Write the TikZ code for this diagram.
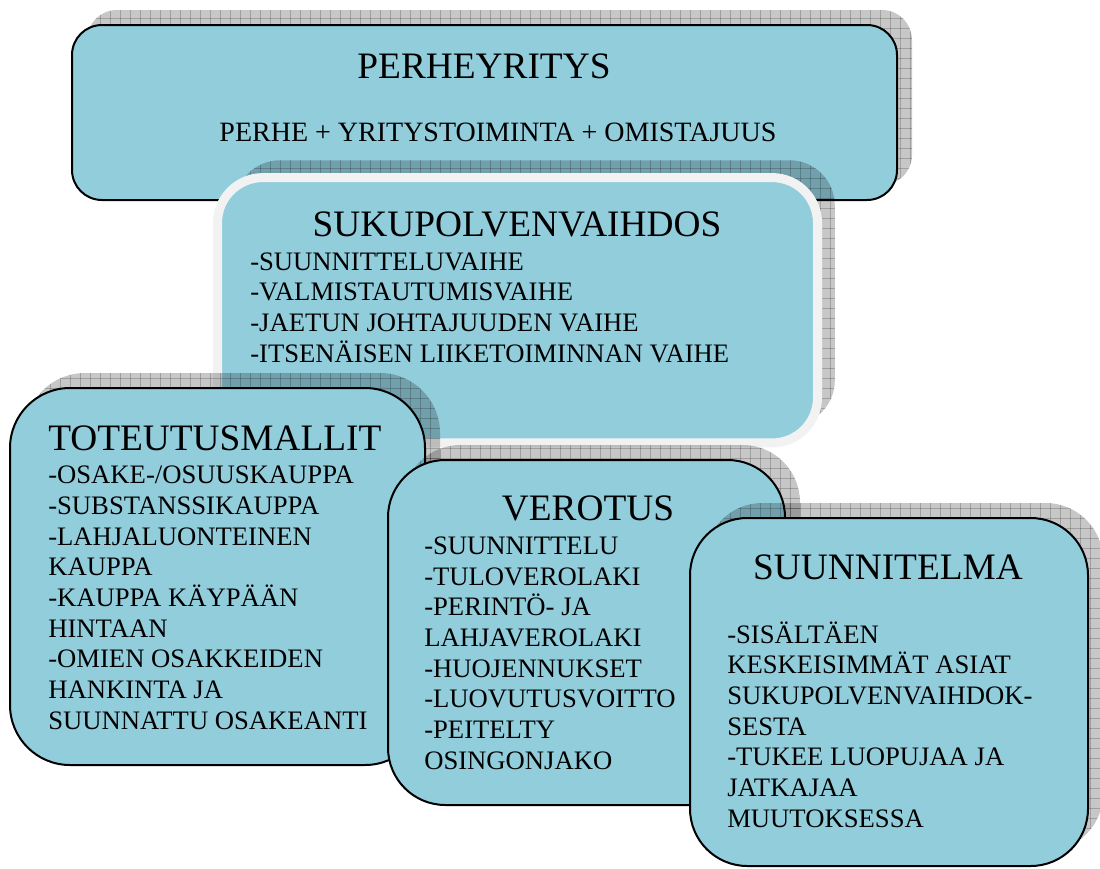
\documentclass[tikz,border=0pt]{standalone}
\usepackage{fontspec}
\setmainfont{Liberation Serif}
\usetikzlibrary{shadows,patterns.meta}
\definecolor{boxblue}{RGB}{146,205,220}
\definecolor{rimwhite}{RGB}{242,242,242}
% grid used in the shadows
\pgfdeclarepattern{
  name=boxgrid,
  type=uncolored,
  bottom left={\pgfpoint{-.5pt}{-.5pt}},
  top right={\pgfpoint{7.5pt}{7.5pt}},
  tile size={\pgfpoint{7.5pt}{7.5pt}},
  code={
    \pgfsetlinewidth{0.6pt}
    \pgfpathmoveto{\pgfpointorigin}\pgfpathlineto{\pgfpoint{7.5pt}{0pt}}
    \pgfpathmoveto{\pgfpointorigin}\pgfpathlineto{\pgfpoint{0pt}{7.5pt}}
    \pgfusepath{stroke}
  }
}

\begin{document}
\begin{tikzpicture}[% styles for all boxes and texts, override case-by-case
					x=0.75pt,y=-0.75pt,
					every node/.style={
						inner sep=0pt,
						font=\fontsize{20}{23}\selectfont	% body text of the lists
						},
					box/.style={
						rectangle,draw=black,line width=1.5pt,fill=boxblue,
						general shadow={shadow xshift=#1,shadow yshift=#1,fill=black,opacity=.22},
						general shadow={shadow xshift=#1,shadow yshift=#1,pattern=boxgrid,pattern color=black,opacity=.2}
						},
					box/.default=11.25pt,
					title/.style={anchor=base,font=\fontsize{28}{32}\selectfont},
					list/.style={anchor=base west,align=left}	% base = baseline of the last line
					]
\useasboundingbox (0,0) rectangle (1100,868);
% top box
\node[box,rounded corners=22.5pt,minimum width=618.75pt,minimum height=131.25pt](perhe) at (484.5,112.5){};
\node[title](perheT) at (484,78.4){PERHEYRITYS};
\node[anchor=base,font=\fontsize{21}{24}\selectfont](perheS) at (498,141){PERHE + YRITYSTOIMINTA + OMISTAJUUS};
% middle box with the white rim
\node[box=13pt,draw=rimwhite,line width=6.75pt,rounded corners=34pt,minimum width=450pt,minimum height=199pt](suku) at (517.5,310.25){};
\node[title](sukuT) at (517,236){SUKUPOLVENVAIHDOS};
\node[list](sukuL) at (250,362){-SUUNNITTELUVAIHE\\ -VALMISTAUTUMISVAIHE\\ -JAETUN JOHTAJUUDEN VAIHE\\ -ITSENÄISEN LIIKETOIMINNAN VAIHE};
% bottom row
\node[box,rounded corners=45pt,minimum width=311.25pt,minimum height=282.75pt](tote) at (217.5,576.5){};
\node[title,anchor=base west](toteT) at (48,450){TOTEUTUSMALLIT};
\node[list](toteL) at (48,729){-OSAKE-/OSUUSKAUPPA\\ -SUBSTANSSIKAUPPA\\ -LAHJALUONTEINEN\\ KAUPPA\\ -KAUPPA KÄYPÄÄN\\ HINTAAN\\ -OMIEN OSAKKEIDEN\\ HANKINTA JA\\ SUUNNATTU OSAKEANTI};
\node[box,rounded corners=43pt,minimum width=297.75pt,minimum height=258.75pt](vero) at (586.5,632.5){};
\node[title](veroT) at (588,520){VEROTUS};
\node[list](veroL) at (424,769){-SUUNNITTELU\\ -TULOVEROLAKI\\ -PERINTÖ- JA\\ LAHJAVEROLAKI\\ -HUOJENNUKSET\\ -LUOVUTUSVOITTO\\ -PEITELTY\\ OSINGONJAKO};
\node[box,rounded corners=43pt,minimum width=298.5pt,minimum height=261pt](suun) at (889,692){};
\node[title](suunT) at (888,579){SUUNNITELMA};
\node[list](suunL) at (727,827){-SISÄLTÄEN\\ KESKEISIMMÄT ASIAT\\ SUKUPOLVENVAIHDOK-\\ SESTA\\ -TUKEE LUOPUJAA JA\\ JATKAJAA\\ MUUTOKSESSA};
\end{tikzpicture}
\end{document}
